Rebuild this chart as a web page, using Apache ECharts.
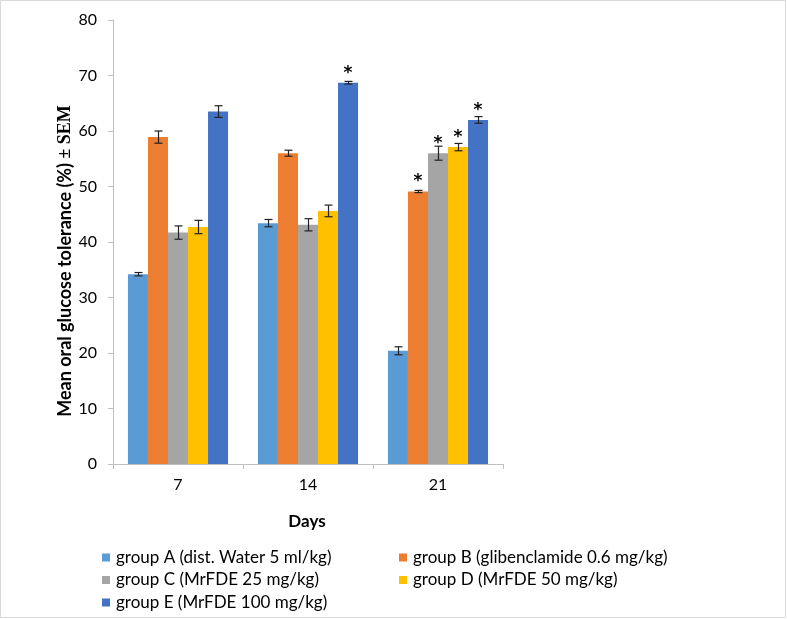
<!DOCTYPE html>
<html>
<head>
<meta charset="utf-8">
<script src="https://cdn.jsdelivr.net/npm/echarts@6/dist/echarts.min.js"></script>
<style>html,body{margin:0;padding:0;background:#fff}#c{width:787px;height:619px}</style>
</head>
<body>
<div id="c"></div>
<script>
const categories = ['7', '14', '21'];
const groupNames = [
  'group A (dist. Water 5 ml/kg)',
  'group B (glibenclamide 0.6 mg/kg)',
  'group C (MrFDE 25 mg/kg)',
  'group D (MrFDE 50 mg/kg)',
  'group E (MrFDE 100 mg/kg)'
];
const groupA = [34.2, 43.4, 20.4];
const groupB = [58.9, 56.0, 49.1];
const groupC = [41.7, 43.1, 56.0];
const groupD = [42.7, 45.6, 57.1];
const groupE = [63.5, 68.7, 62.0];
const semA = [0.3, 0.66, 0.72];
const semB = [1.1, 0.54, 0.2];
const semC = [1.2, 1.1, 1.26];
const semD = [1.2, 1.05, 0.66];
const semE = [1.05, 0.24, 0.6];
const starA = [0, 0, 0];
const starB = [0, 0, 1];
const starC = [0, 0, 1];
const starD = [0, 0, 1];
const starE = [0, 1, 1];
const yTicks = [0, 10, 20, 30, 40, 50, 60, 70, 80];

const colors = ['#5B9BD5', '#ED7D31', '#A5A5A5', '#FFC000', '#4472C4'];
const values = [groupA, groupB, groupC, groupD, groupE];
const sems = [semA, semB, semC, semD, semE];
const stars = [starA, starB, starC, starD, starE];
const CAT_GAP = 0.23;
const FONT = 'Lato, "Liberation Sans", sans-serif';

const barSeries = values.map((vals, g) => ({
  name: groupNames[g],
  type: 'bar',
  barGap: '0%',
  barCategoryGap: (CAT_GAP * 100) + '%',
  itemStyle: { color: colors[g] },
  z: 2,
  data: vals.map((v, i) => stars[g][i] ? {
    value: v,
    label: { show: true, position: 'top', distance: 1, formatter: '*', fontSize: 17, fontWeight: 'bold', color: '#000', fontFamily: '"DejaVu Sans", sans-serif' }
  } : v)
}));

const errData = [];
values.forEach((vals, g) => vals.forEach((v, i) => errData.push([i, g, v, sems[g][i]])));

const errSeries = {
  type: 'custom',
  z: 5,
  silent: true,
  encode: { x: 0, y: 2 },
  data: errData,
  renderItem: function (params, api) {
    const cat = api.value(0), g = api.value(1), v = api.value(2), e = api.value(3);
    const catW = api.size([1, 0])[0];
    const bw = catW * (1 - CAT_GAP) / 5;
    const c = api.coord([cat, v]);
    const x = Math.round(c[0] + (g - 2) * bw) + 0.5;
    const top = api.coord([cat, v + e])[1];
    const bot = api.coord([cat, v - e])[1];
    const st = { stroke: '#222', lineWidth: 1.2 };
    return {
      type: 'group',
      children: [
        { type: 'line', shape: { x1: x, y1: top, x2: x, y2: bot }, style: st },
        { type: 'line', shape: { x1: x - 4, y1: top, x2: x + 4, y2: top }, style: st },
        { type: 'line', shape: { x1: x - 4, y1: bot, x2: x + 4, y2: bot }, style: st }
      ]
    };
  }
};

const legendCommon = {
  orient: 'vertical',
  icon: 'rect',
  itemWidth: 8,
  itemHeight: 8,
  itemGap: 5.5,
  selectedMode: false,
  textStyle: { fontSize: 17, fontFamily: FONT, color: '#000', lineHeight: 17, padding: [0, 0, 0, 1] }
};

const chart = echarts.init(document.getElementById('c'), null, { renderer: 'canvas' });
chart.setOption({
  animation: false,
  backgroundColor: '#fff',
  grid: { left: 113, right: 284, top: 20, bottom: 155 },
  legend: [
    Object.assign({}, legendCommon, { data: [groupNames[0], groupNames[2], groupNames[4]], left: 97, top: 544 }),
    Object.assign({}, legendCommon, { data: [groupNames[1], groupNames[3]], left: 394, top: 544 })
  ],
  xAxis: {
    type: 'category',
    data: categories,
    axisLine: { lineStyle: { color: '#BFBFBF', width: 1 } },
    axisTick: { show: true, length: 5, lineStyle: { color: '#BFBFBF' } },
    axisLabel: { color: '#000', fontSize: 16, fontFamily: FONT, margin: 13 }
  },
  yAxis: {
    type: 'value',
    min: yTicks[0],
    max: yTicks[yTicks.length - 1],
    interval: yTicks[1] - yTicks[0],
    name: '{a|Mean oral glucose tolerance (%) }{b|± SEM}',
    nameLocation: 'middle',
    nameGap: 39,
    nameRotate: 90,
    nameTextStyle: {
      padding: [0, 38, 0, 0],
      rich: {
        a: { fontSize: 18, fontWeight: 'bold', fontFamily: FONT, color: '#000' },
        b: { fontSize: 18, fontWeight: 'bold', fontFamily: '"Liberation Serif", serif', color: '#000' }
      }
    },
    axisLine: { show: true, lineStyle: { color: '#BFBFBF', width: 1 } },
    axisTick: { show: true, length: 5, lineStyle: { color: '#BFBFBF' } },
    splitLine: { show: false },
    axisLabel: { color: '#000', fontSize: 16, fontFamily: FONT, margin: 16 }
  },
  graphic: [
    { type: 'text', x: 307, y: 522, style: { text: 'Days', fontSize: 17, fontWeight: 'bold', fontFamily: FONT, fill: '#000', align: 'center', verticalAlign: 'middle' } },
    { type: 'rect', shape: { x: 0.5, y: 0.5, width: 785, height: 617 }, style: { fill: 'none', stroke: '#D9D9D9', lineWidth: 1 }, silent: true, z: 100 }
  ],
  series: barSeries.concat([errSeries])
});
</script>
</body>
</html>
